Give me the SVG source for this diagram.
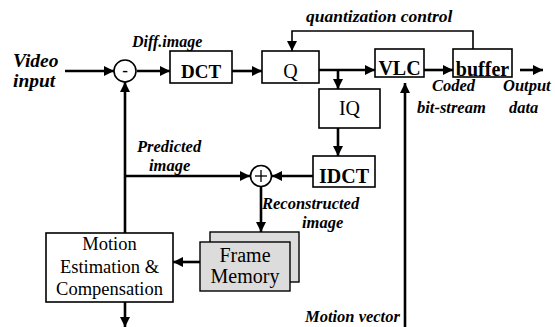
<svg xmlns="http://www.w3.org/2000/svg" width="555" height="327" viewBox="0 0 555 327">
<defs>
<marker id="ah" viewBox="0 0 10 10" refX="10" refY="5" markerWidth="10" markerHeight="10" markerUnits="userSpaceOnUse" orient="auto">
<path d="M0,0 L10,5 L0,10 z" fill="#000"/>
</marker>
<style>
.box{fill:#fff;stroke:#000;stroke-width:1.6}
.mem{fill:#dcdcdc;stroke:#000;stroke-width:1.4}
.c{fill:#fff;stroke:#000;stroke-width:1.6}
.w{fill:none;stroke:#000;stroke-width:2.6}
.t{fill:none;stroke:#000;stroke-width:1.6}
.bt{font-family:"Liberation Serif","Times New Roman",serif;font-size:19px;font-weight:bold;text-anchor:middle;fill:#000}
.rt{font-family:"Liberation Serif","Times New Roman",serif;font-size:18.5px;text-anchor:middle;fill:#000}
.lb{font-family:"Liberation Serif","Times New Roman",serif;font-size:16.5px;font-weight:bold;font-style:italic;fill:#000}
</style>
</defs>
<rect width="555" height="327" fill="#fff"/>
<g id="connectors">
<line class="w" x1="65" y1="71" x2="114" y2="71" marker-end="url(#ah)"/>
<line class="w" x1="137" y1="71" x2="170" y2="71" marker-end="url(#ah)"/>
<line class="w" x1="232" y1="71" x2="262" y2="71" marker-end="url(#ah)"/>
<line class="w" x1="319" y1="70" x2="375" y2="70" marker-end="url(#ah)"/>
<line class="w" x1="424" y1="70" x2="453" y2="70" marker-end="url(#ah)"/>
<line class="w" x1="520" y1="70" x2="543" y2="70" marker-end="url(#ah)"/>
<polyline class="t" points="473,49 473,31 292,31 292,51" marker-end="url(#ah)"/>
<line class="w" x1="338" y1="70" x2="338" y2="89" marker-end="url(#ah)"/>
<line class="w" x1="338" y1="128" x2="338" y2="156" marker-end="url(#ah)"/>
<line class="w" x1="313" y1="176" x2="272" y2="176" marker-end="url(#ah)"/>
<line class="w" x1="125" y1="176" x2="250" y2="176" marker-end="url(#ah)"/>
<line class="w" x1="125" y1="233" x2="125" y2="82" marker-end="url(#ah)"/>
<line class="w" x1="261" y1="187" x2="261" y2="232" marker-end="url(#ah)"/>
<line class="w" x1="200" y1="262" x2="173" y2="262" marker-end="url(#ah)"/>
<line class="w" x1="125" y1="302" x2="125" y2="327" marker-end="url(#ah)"/>
<line class="w" x1="405" y1="327" x2="405" y2="83" marker-end="url(#ah)"/>
</g>
<g id="minus">
<circle class="c" cx="125" cy="71" r="11"/>
<text class="bt" x="125" y="76" style="font-size:17px">-</text>
</g>
<g id="dct">
<rect class="box" x="170" y="51" width="62" height="32"/>
<text class="bt" x="201" y="78">DCT</text>
</g>
<g id="q">
<rect class="box" x="262" y="51" width="57" height="32"/>
<text class="bt" x="290.5" y="78" style="font-weight:normal;font-size:20px">Q</text>
</g>
<g id="vlc">
<rect class="box" x="375" y="49" width="49" height="28"/>
<text class="bt" x="399.5" y="75" style="font-size:20px">VLC</text>
</g>
<g id="buffer">
<rect class="box" x="453" y="49" width="59" height="28"/>
<text class="bt" x="482.5" y="76" style="font-size:20px">buffer</text>
</g>
<g id="iq">
<rect class="box" x="319" y="89" width="61" height="39"/>
<text class="bt" x="349.5" y="115" style="font-weight:normal;font-size:20px">IQ</text>
</g>
<g id="idct">
<rect class="box" x="313" y="156" width="62" height="31"/>
<text class="bt" x="344" y="183" style="font-size:20px">IDCT</text>
</g>
<g id="plus">
<circle class="c" cx="261" cy="176" r="10.5"/>
<line class="t" x1="255" y1="176" x2="267" y2="176" style="stroke-width:1.3"/>
<line class="t" x1="261" y1="170" x2="261" y2="182" style="stroke-width:1.3"/>
</g>
<g id="frame-memory">
<rect class="mem" x="210" y="232" width="89" height="50"/>
<rect class="mem" x="200" y="242" width="90" height="49"/>
<text class="rt" x="245" y="262" style="font-size:20px">Frame</text>
<text class="rt" x="245" y="283" style="font-size:20px">Memory</text>
</g>
<g id="motion">
<rect class="box" x="46" y="233" width="127" height="69"/>
<text class="rt" x="109.5" y="250">Motion</text>
<text class="rt" x="109.5" y="273">Estimation &amp;</text>
<text class="rt" x="109.5" y="295">Compensation</text>
</g>
<g id="labels">
<text class="lb" x="13" y="67" style="font-size:19.5px">Video</text>
<text class="lb" x="13" y="87" style="font-size:19.5px">input</text>
<text class="lb" x="132" y="47" style="font-size:16px">Diff.image</text>
<text class="lb" x="306" y="22" style="font-size:17.5px">quantization control</text>
<text class="lb" x="137" y="152">Predicted</text>
<text class="lb" x="149" y="171">image</text>
<text class="lb" x="262" y="209">Reconstructed</text>
<text class="lb" x="302" y="228">image</text>
<text class="lb" x="432" y="91">Coded</text>
<text class="lb" x="417" y="113">bit-stream</text>
<text class="lb" x="503" y="91">Output</text>
<text class="lb" x="509" y="113">data</text>
<text class="lb" x="305" y="322" style="font-size:16.5px">Motion vector</text>
</g>
</svg>
